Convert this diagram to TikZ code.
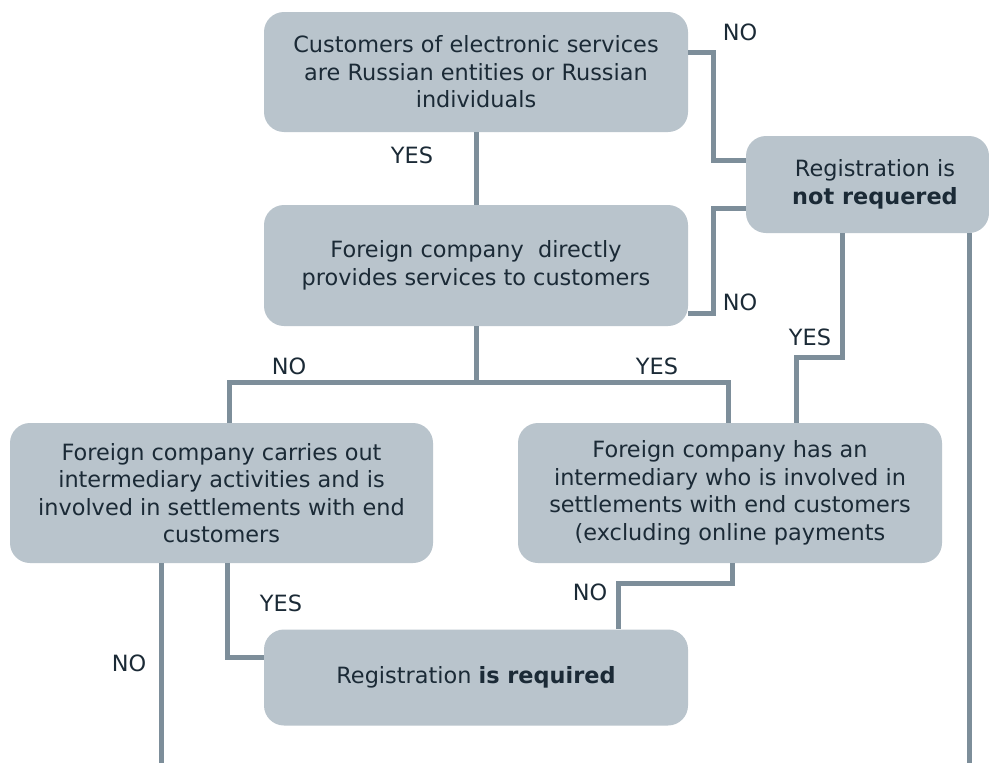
\documentclass[tikz,border=0pt]{standalone}
\usepackage{fontspec}
\setmainfont{DejaVu Sans}
\usetikzlibrary{calc}
\definecolor{boxfill}{HTML}{B9C4CC}
\definecolor{linec}{HTML}{7D8E9A}
\definecolor{txt}{HTML}{1B2A36}
\begin{document}
\begin{tikzpicture}[x=1pt,y=-1pt,
  box/.style={fill=boxfill, rounded corners=20pt, align=center, text=txt,
    font=\fontsize{22.4}{27.5}\selectfont, inner sep=0pt},
  conn/.style={draw=linec, line width=5pt},
  lbl/.style={text=txt, font=\fontsize{22.4}{27}\selectfont, inner sep=0pt}]
\useasboundingbox (0,0) rectangle (989,763);
\fill[white] (0,0) rectangle (989,763);

\node[box, minimum width=424pt, minimum height=120pt] (b1) at (476,72)
  {Customers of electronic services\\are Russian entities or Russian\\individuals};
\node[box, minimum width=243pt, minimum height=97pt] (nr) at (867.5,184.5)
  {\hspace*{15pt}Registration is\\\hspace*{15pt}\textbf{not requered}};
\node[box, minimum width=424pt, minimum height=121pt] (b2) at (476,265.5)
  {Foreign company\ \ directly\\provides services to customers};
\node[box, minimum width=423pt, minimum height=140pt] (b3) at (221.5,493)
  {Foreign company carries out\\intermediary activities and is\\involved in settlements with end\\customers};
\node[box, minimum width=424pt, minimum height=140pt] (b4) at (730,493)
  {Foreign company has an\\intermediary who is involved in\\settlements with end customers\\(excluding online payments};
\node[box, minimum width=424pt, minimum height=96pt] (b5) at (476,677.5)
  {Registration \textbf{is required}};

% connectors
\draw[conn] (b1.south) -- (b2.north);
\draw[conn] (b1.east |- 0,52) -| (713,160) -- (nr.west |- 0,160);
\draw[conn] (b2.east |- 0,313) -| (713,208) -- (nr.west |- 0,208);
\draw[conn] (b2.south) -- (476,382);
\draw[conn] (b3.north -| 229,0) |- (728,382) -- (b4.north -| 728,0);
\draw[conn] (nr.south -| 842,0) |- (796,357) -- (b4.north -| 796,0);
\draw[conn] (nr.south -| 969,0) -- (969,763);
\draw[conn] (b3.south -| 161,0) -- (161,763);
\draw[conn] (b3.south -| 227,0) |- (b5.west |- 0,657);
\draw[conn] (b4.south -| 732,0) |- (618,583) -- (b5.north -| 618,0);

% labels
\node[lbl] (l1) at (740,32) {NO};
\node[lbl] (l2) at (740,302) {NO};
\node[lbl] (l3) at (412,155) {YES};
\node[lbl] (l4) at (289,366) {NO};
\node[lbl] (l5) at (657,366) {YES};
\node[lbl] (l6) at (810,337) {YES};
\node[lbl] (l7) at (281,603) {YES};
\node[lbl] (l8) at (590,592) {NO};
\node[lbl] (l9) at (129,663) {NO};
\end{tikzpicture}
\end{document}
